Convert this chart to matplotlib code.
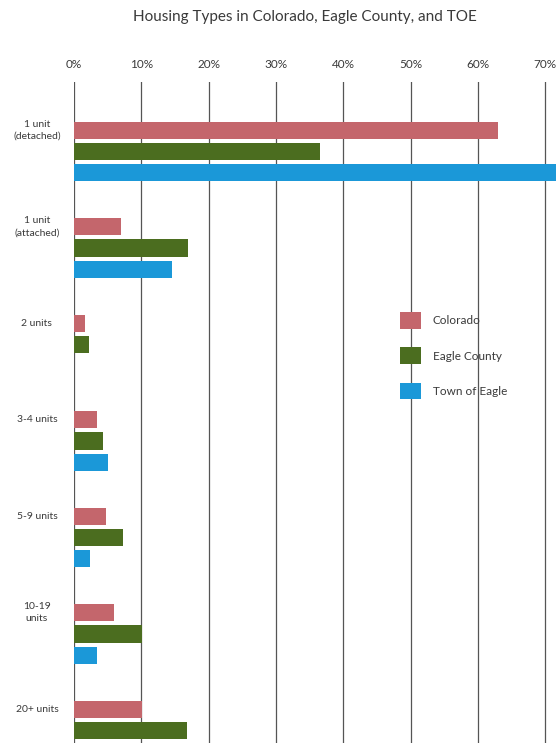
#!/usr/bin/env python3
# housing_types.py

import numpy as np
import matplotlib.pyplot as plt
from matplotlib.ticker import MultipleLocator, FuncFormatter
from matplotlib.patches import Patch

plt.rcParams["font.family"] = ["Lato", "DejaVu Sans"]

categories = [
    "1 unit\n(detached)",
    "1 unit\n(attached)",
    "2 units",
    "3-4 units",
    "5-9 units",
    "10-19\nunits",
    "20+ units",
]
series_names = ["Colorado", "Eagle County", "Town of Eagle"]
colorado = [63.0, 7.0, 1.6, 3.4, 4.8, 5.9, 10.1]
eagle_county = [36.6, 16.9, 2.2, 4.3, 7.3, 10.1, 16.8]
town_of_eagle = [74.0, 14.6, 0.0, 5.1, 2.4, 3.4, 2.0]
colors = ["#c4666c", "#4b6d1f", "#1b98d8"]
text_color = "#3a3a3a"


def main():
    fig = plt.figure(figsize=(5.56, 7.46), dpi=100)
    ax = fig.add_axes([0.133, 0.004, 0.867, 0.886])

    y = np.arange(len(categories))
    step = 0.22
    height = 0.18
    for k, (vals, col) in enumerate(zip([colorado, eagle_county, town_of_eagle], colors)):
        ax.barh(y + k * step, vals, height=height, color=col, zorder=3)

    # bottom limit cuts the last blue bar off, as in the source image
    ax.set_xlim(0, 71.6)
    ax.set_ylim(6.35, -0.5)
    ax.xaxis.set_major_locator(MultipleLocator(10))
    ax.xaxis.set_major_formatter(FuncFormatter(lambda v, _: f"{v:.0f}%"))
    ax.xaxis.tick_top()
    ax.tick_params(axis="x", length=0, pad=9, labelsize=8.5, colors=text_color)
    ax.set_yticks([])
    ax.grid(axis="x", color="#555555", linewidth=0.9, zorder=1)
    for s in ax.spines.values():
        s.set_visible(False)

    for i, lab in enumerate(categories):
        ax.text(-5.5, y[i], lab, ha="center", va="center",
                fontsize=7.5, color=text_color, linespacing=1.4)

    fig.text(0.549, 0.977, "Housing Types in Colorado, Eagle County, and TOE",
             ha="center", va="center", fontsize=11, color=text_color)

    handles = [Patch(facecolor=c, edgecolor="none") for c in colors]
    ax.legend(handles, series_names, loc="upper left",
              bbox_to_anchor=(400 / 556, 1 - 312 / 746), bbox_transform=fig.transFigure,
              frameon=False, fontsize=8.5, handlelength=1.78, handleheight=1.78,
              labelspacing=1.6, handletextpad=1.0, borderpad=0, borderaxespad=0,
              labelcolor=text_color)

    fig.savefig("out.png", dpi=100)


if __name__ == "__main__":
    main()
